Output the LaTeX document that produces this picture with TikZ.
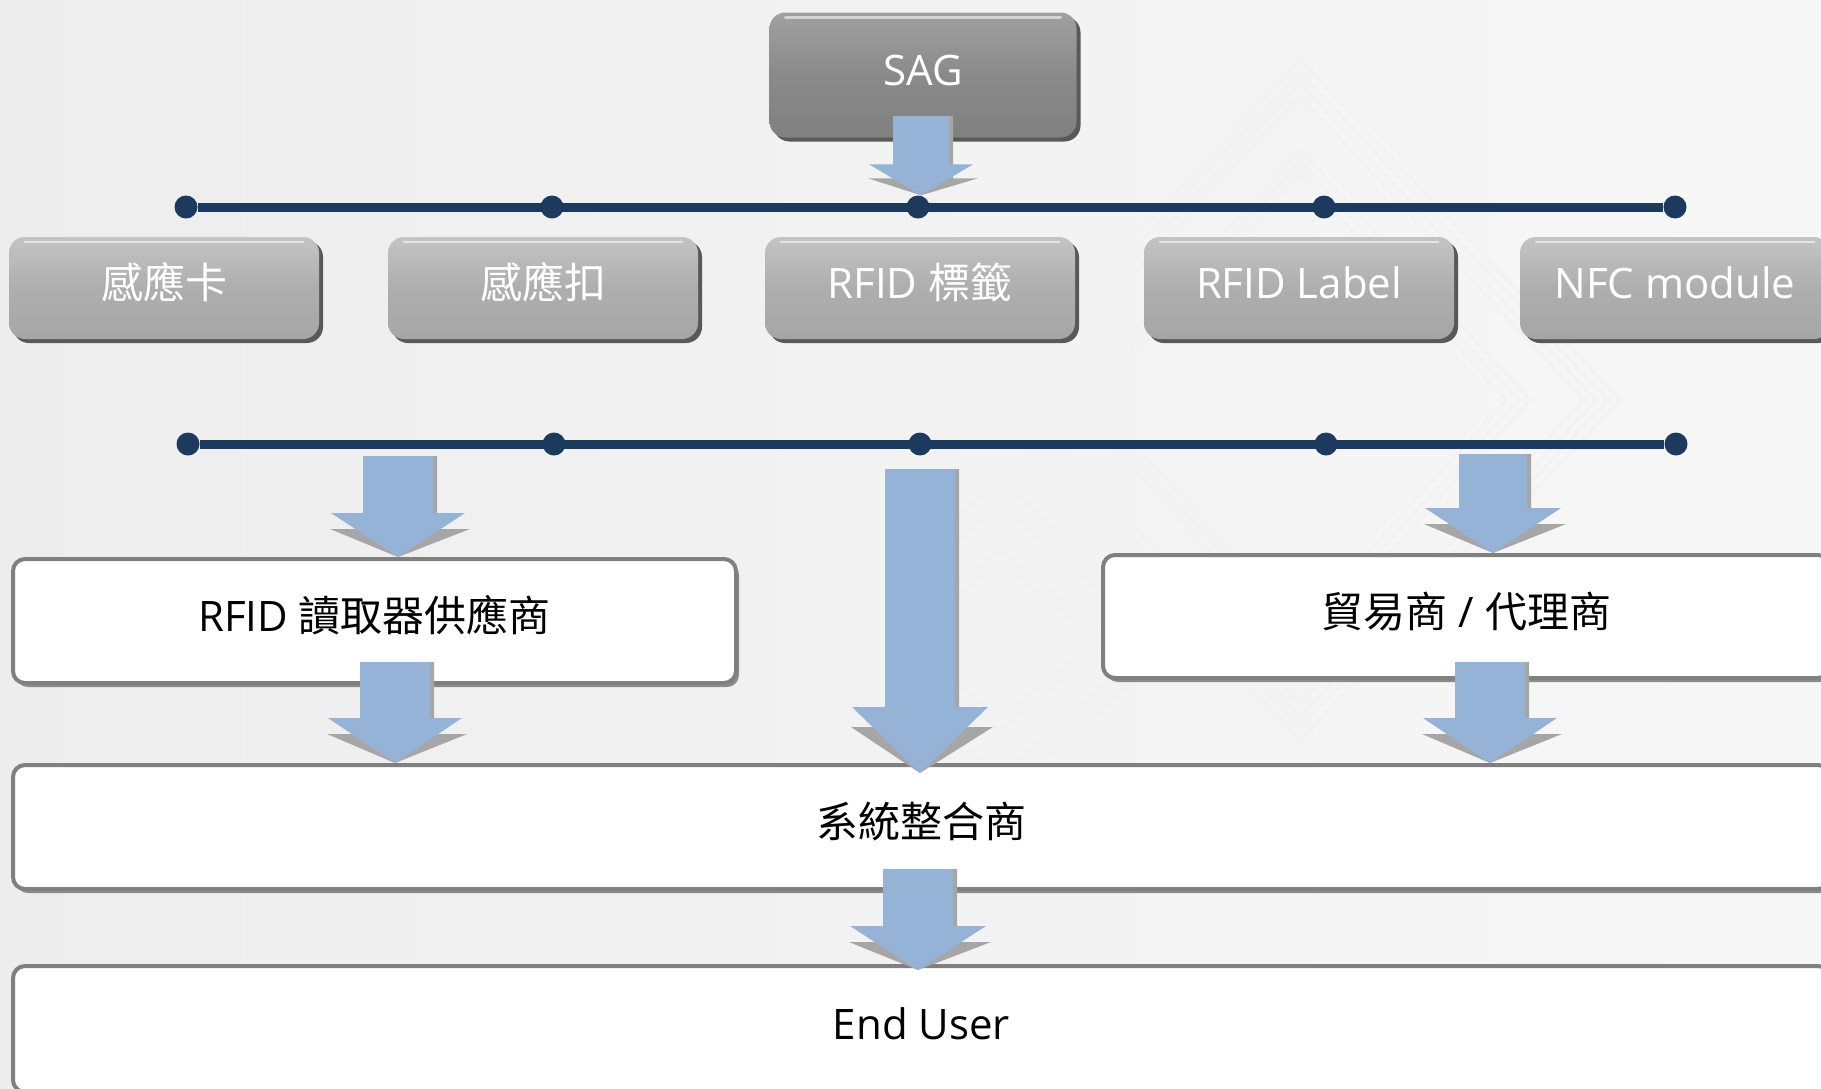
\documentclass[tikz,border=0pt]{standalone}
\usepackage{fontspec}
\setmainfont{Open Sans}
\newfontfamily\cjk{Noto Sans CJK TC}
\usetikzlibrary{calc,shadows}
\definecolor{navy}{RGB}{27,58,94}
\definecolor{arrblue}{RGB}{149,179,215}
\definecolor{arrgray}{RGB}{166,166,166}
\definecolor{boxgray}{RGB}{128,128,128}
\definecolor{ga}{RGB}{196,196,196}
\definecolor{gb}{RGB}{174,174,174}
\definecolor{gc}{RGB}{166,166,166}
\definecolor{sa}{RGB}{160,160,160}
\definecolor{sb}{RGB}{138,138,138}
\definecolor{sc}{RGB}{128,128,128}
\newcommand\fsz{\fontsize{42pt}{50pt}\selectfont}
\newcommand\blockarrow[6]{%
  \fill[arrgray] let \p1=(#1),\p2=(#2) in
    (\x1-#3pt,\y1) -- (\x1+#3pt+4pt,\y1) -- (\x1+#3pt+4pt,\y2+#5pt-#6pt)
    -- (\x1+#4pt+5pt,\y2+#5pt-#6pt) -- (\x1,\y2) -- (\x1-#4pt-1pt,\y2+#5pt-#6pt)
    -- (\x1-#3pt,\y2+#5pt-#6pt) -- cycle;
  \fill[arrblue] let \p1=(#1),\p2=(#2) in
    (\x1-#3pt,\y1) -- (\x1+#3pt,\y1) -- (\x1+#3pt,\y2+#5pt)
    -- (\x1+#4pt,\y2+#5pt) -- (\x1,\y2) -- (\x1-#4pt,\y2+#5pt)
    -- (\x1-#3pt,\y2+#5pt) -- cycle;
}
\tikzset{
  txt/.style={font=\fsz, inner sep=0pt, text height=32pt, text depth=11pt},
  graybox/.style={txt, rounded corners=16pt, minimum width=310pt, minimum height=102pt,
    text=white,
    top color=ga, bottom color=gc, middle color=gb,
    drop shadow={shadow xshift=4pt, shadow yshift=-4pt, fill=black!65, opacity=1}},
  sagbox/.style={graybox, minimum width=307pt, minimum height=125pt,
    top color=sa, bottom color=sc, middle color=sb},
  whitebox/.style={txt, rounded corners=12pt, draw=boxgray, line width=4pt, fill=white,
    text=black,
    drop shadow={shadow xshift=3pt, shadow yshift=-4pt, fill=black!45, opacity=1}},
  busdot/.style={circle, fill=navy, minimum size=23pt, inner sep=0pt},
  bus/.style={navy, line width=9pt},
  shine/.style={white, opacity=0.55, line width=2.5pt, line cap=round},
}
\begin{document}
\begin{tikzpicture}[x=1pt,y=-1pt]
\useasboundingbox (0,0) rectangle (1821,1088);
\clip (0,0) rectangle (1821,1088);
\shade[left color=black!7, middle color=white, right color=black!3] (0,0) rectangle (1821,1088);
% faint background pattern
\begin{scope}[black!5, line width=3pt]
  \foreach \d in {0,12,24,36,90,102,114} {
    \draw (1300,{60+\d}) -- ({1620-\d},400) -- (1300,{740-\d}) -- ({980+\d},400) -- cycle;
  }
  \foreach \d in {0,12,24,70,82} {
    \draw (1000,{480+\d}) -- ({1180-\d},640) -- (1000,{800-\d}) -- ({820+\d},640) -- cycle;
  }
\end{scope}

% top node
\node[sagbox] (sag) at (923,75) {SAG};

% upper bus
\node[busdot] (t1) at (186,207) {};
\node[busdot] (t2) at (552,207) {};
\node[busdot] (t3) at (918,207) {};
\node[busdot] (t4) at (1324,207) {};
\node[busdot] (t5) at (1675,207) {};
\draw[bus] (t1) -- (t5);

% product boxes
\node[graybox] (card) at (164,288) {{\cjk 感應卡}};
\node[graybox] (tag) at (543,288) {{\cjk 感應扣}};
\node[graybox] (rfidtag) at (920,288) {RFID {\cjk 標籤}};
\node[graybox] (label) at (1299,288) {RFID Label};
\node[graybox] (nfc) at (1675,288) {NFC module};
\foreach \n in {sag,card,tag,rfidtag,label,nfc}
  \draw[shine] ($(\n.north west)+(16,5)$) -- ($(\n.north east)+(-16,5)$);

% lower bus
\node[busdot] (b1) at (188,444) {};
\node[busdot] (b2) at (554,444) {};
\node[busdot] (b3) at (920,444) {};
\node[busdot] (b4) at (1326,444) {};
\node[busdot] (b5) at (1676,444) {};
\draw[bus] (b1) -- (b5);

% channel boxes
\node[whitebox, minimum width=723pt, minimum height=124pt] (reader) at (374.5,621) {RFID {\cjk 讀取器供應商}};
\node[whitebox, minimum width=727pt, minimum height=123pt] (trade) at (1466.5,616.5) {{\cjk 貿易商} / {\cjk 代理商}};
\node[whitebox, minimum width=1817pt, minimum height=124pt] (sys) at (921.5,827) {{\cjk 系統整合商}};
\node[whitebox, minimum width=1817pt, minimum height=126pt] (endu) at (921.5,1029) {End User};

% arrows
\coordinate (s0) at (921,116);
\coordinate (sA) at (398,456);
\coordinate (sB) at (395,662);
\coordinate (sC) at (920,469);
\coordinate (sD) at (1493,454);
\coordinate (sE) at (1490,662);
\coordinate (sF) at (918,869);
\blockarrow{s0}{s0 |- t3.north}{28}{52}{31}{14}
\blockarrow{sA}{sA |- reader.north}{35}{67}{44}{16}
\blockarrow{sB}{sB |- sys.north}{35}{67}{45}{16}
\blockarrow{sC}{$(sC |- sys.north)+(0,10)$}{35}{68}{66}{20}
\blockarrow{sD}{sD |- trade.north}{34}{68}{45}{16}
\blockarrow{sE}{sE |- sys.north}{35}{67}{45}{16}
\blockarrow{sF}{$(sF |- endu.north)+(0,6)$}{35}{68}{44}{16}
\end{tikzpicture}
\end{document}
